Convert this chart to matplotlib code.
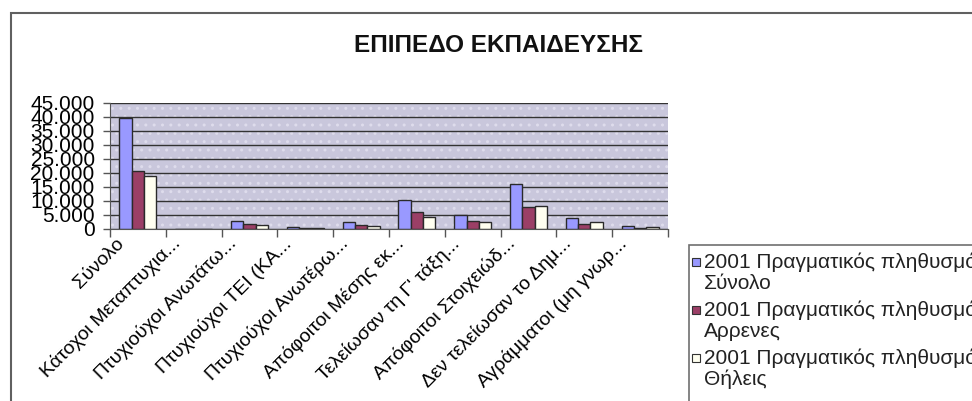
import matplotlib.pyplot as plt
import matplotlib.patches as mpatches
import matplotlib.transforms as mtransforms
from matplotlib.ticker import FuncFormatter, MultipleLocator
import numpy as np

# data
categories = [
    'Σύνολο',
    'Κάτοχοι Μεταπτυχια...',
    'Πτυχιούχοι Ανωτάτω...',
    'Πτυχιούχοι ΤΕΙ (ΚΑ...',
    'Πτυχιούχοι Ανωτέρω...',
    'Απόφοιτοι Μέσης εκ...',
    'Τελείωσαν τη Γ\' τάξη...',
    'Απόφοιτοι Στοιχειώδ...',
    'Δεν τελείωσαν το Δημ...',
    'Αγράμματοι (μη γνωρ...',
]
total = [39700, 80, 3000, 600, 2500, 10200, 5100, 16000, 4100, 1000]
males = [20700, 50, 1700, 300, 1400, 6000, 2900, 7900, 1800, 400]
females = [19000, 30, 1300, 300, 1100, 4300, 2400, 8300, 2500, 600]
series_names = ['Σύνολο', 'Αρρενες', 'Θήλεις']
series_prefix = '2001 Πραγματικός πληθυσμός'
title = 'ΕΠΙΠΕΔΟ ΕΚΠΑΙΔΕΥΣΗΣ'

colors = ['#9999ff', '#9b3f66', '#fffff0']

plt.rcParams['font.family'] = ['Liberation Sans', 'DejaVu Sans']

W, H = 972, 401
fig = plt.figure(figsize=(W / 100, H / 100), dpi=100)
fig.patch.set_facecolor('white')


def fx(px):
    return px / W


def fy(py):
    return 1 - py / H


# outer chart frame, runs off the right and bottom of the picture
fig.add_artist(mpatches.Rectangle((fx(11), -0.2), 1.2, fy(13) + 0.2,
                                  transform=fig.transFigure, fill=False,
                                  edgecolor='#606060', linewidth=1.5))

fig.text(fx(498), fy(46), title, ha='center', va='center',
         fontsize=17.5, fontweight='bold', color='#111111')

ax = fig.add_axes([fx(110), fy(229), fx(668) - fx(110), fy(103) - fy(229)])
ax.set_facecolor('#c9c7dc')
ax.add_patch(mpatches.Rectangle((0, 0), 1, 1, transform=ax.transAxes,
                                facecolor='none', edgecolor='#dedcec',
                                hatch='..', linewidth=0, zorder=0.2))

x = np.arange(len(categories))
width = 0.22
for i, (values, color) in enumerate(zip([total, males, females], colors)):
    ax.bar(x + (i - 1) * width, values, width, color=color,
           edgecolor='#2a2a2a', linewidth=1.0, zorder=2)

ax.set_xlim(-0.5, len(categories) - 0.5)
ax.set_ylim(0, 45000)
ax.yaxis.set_major_locator(MultipleLocator(5000))
ax.yaxis.set_major_formatter(FuncFormatter(lambda v, p: f'{v:,.0f}'.replace(',', '.')))
ax.set_axisbelow(True)
ax.grid(axis='y', color='#333333', linewidth=1.0, zorder=0.5)

ax.set_xticks(x)
ax.set_xticklabels(categories, rotation=45, ha='right', va='center',
                   rotation_mode='anchor', fontsize=14)
ax.set_xticks(np.arange(-0.5, len(categories), 1), minor=True)
ax.tick_params(axis='x', which='major', length=0, pad=0)
ax.tick_params(axis='x', which='minor', length=6, width=1, color='#555555')
ax.tick_params(axis='y', length=5, width=1, color='#555555', labelsize=15, pad=6)

# labels sit a bit left of and below the category centre, as in the original
offset = mtransforms.ScaledTranslation(-16 / 100, -12 / 100, fig.dpi_scale_trans)
for lab in ax.get_xticklabels():
    lab.set_transform(lab.get_transform() + offset)

for side in ['top', 'right']:
    ax.spines[side].set_visible(False)
ax.spines['left'].set_color('#555555')
ax.spines['bottom'].set_color('#555555')

# legend box, also cut off by the picture edge
fig.add_artist(mpatches.Rectangle((fx(689), -0.2), 1.2, fy(245) + 0.2,
                                  transform=fig.transFigure, fill=False,
                                  edgecolor='#707070', linewidth=1.2))
for i, (name, color) in enumerate(zip(series_names, colors)):
    y0 = 262 + i * 48
    fig.add_artist(mpatches.Rectangle((fx(692), fy(y0 + 4)), fx(8), 8 / H,
                                      transform=fig.transFigure,
                                      facecolor=color, edgecolor='#333333',
                                      linewidth=0.8))
    fig.text(fx(704), fy(y0), series_prefix, ha='left', va='center',
             fontsize=15, color='#222222')
    fig.text(fx(704), fy(y0 + 21.5), name, ha='left', va='center',
             fontsize=15, color='#222222')

fig.savefig('out.png', dpi=100)
